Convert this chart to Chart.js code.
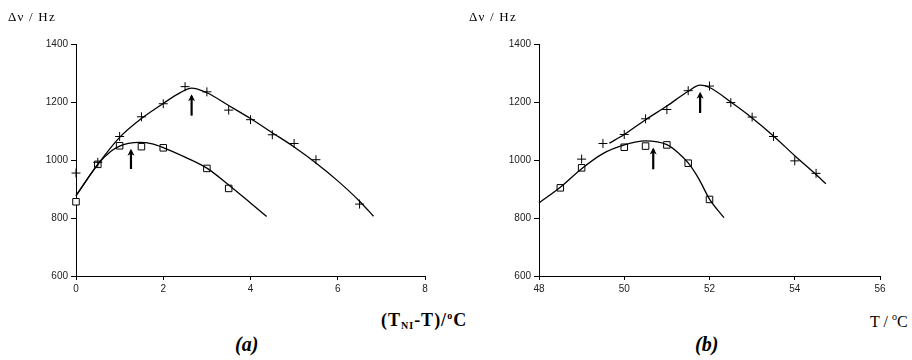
<!DOCTYPE html>
<html>
<head>
<meta charset="utf-8">
<script src="https://cdn.jsdelivr.net/npm/chart.js@4.4.0/dist/chart.umd.min.js"></script>
<style>
  html, body { margin: 0; padding: 0; background: #fff; }
  #wrap { position: relative; width: 912px; height: 360px; overflow: hidden; }
  canvas { position: absolute; top: 0; }
  .lbl { position: absolute; color: #000; white-space: nowrap; font-family: "Liberation Serif", "DejaVu Serif", serif; }
  .ylab { font-size: 13px; top: 9px; letter-spacing: 1.2px; }
  .xt { font-size: 16px; top: 311px; }
  .cap { font-size: 20px; font-weight: bold; font-style: italic; top: 333px; }
  sub { font-size: 10px; vertical-align: -3px; }
  sup { font-size: 10px; vertical-align: 7px; }
</style>
</head>
<body>
<div id="wrap">
  <canvas id="cA" width="456" height="300" style="left:0px;width:456px;height:300px"></canvas>
  <canvas id="cB" width="456" height="300" style="left:456px;width:456px;height:300px"></canvas>
  <div class="lbl ylab" style="left:8px">&Delta;&nu; / Hz</div>
  <div class="lbl ylab" style="left:469px">&Delta;&nu; / Hz</div>
  <div class="lbl xt" style="left:381px;top:310px;font-size:18px;font-weight:bold;letter-spacing:1px">(T<sub>NI</sub>-T)/<sup>o</sup>C</div>
  <div class="lbl xt" style="left:870px">T / <sup>o</sup>C</div>
  <div class="lbl cap" style="left:235px">(a)</div>
  <div class="lbl cap" style="left:695px">(b)</div>
</div>
<script>
// ---- Panel (a): x = (T_NI - T) / °C ----
const aPlusX  = [0, 0.5, 1.0, 1.5, 2.0, 2.5, 3.0, 3.5, 4.0, 4.5, 5.0, 5.5, 6.5];
const aPlusY  = [955, 992, 1081, 1149, 1194, 1253, 1235, 1172, 1139, 1087, 1057, 1001, 848];
const aSqX    = [0, 0.5, 1.0, 1.5, 2.0, 3.0, 3.5];
const aSqY    = [856, 985, 1049, 1046, 1042, 971, 902];
const aUpX    = [0, 0.5, 1.0, 1.5, 2.0, 2.4, 2.65, 3.0, 3.5, 4.0, 4.5, 5.0, 5.5, 6.0, 6.5, 6.82];
const aUpY    = [877, 985, 1078, 1143, 1195, 1233, 1248, 1232, 1188, 1143, 1094, 1045, 990, 928, 858, 806];
const aLoX    = [0, 0.5, 0.8, 1.0, 1.2, 1.45, 1.75, 2.0, 2.5, 3.0, 3.5, 4.0, 4.37];
const aLoY    = [877, 985, 1030, 1048, 1057, 1061, 1056, 1043, 1010, 972, 914, 852, 805];
const aArrows = [{x: 1.26, y0: 969, y1: 1039}, {x: 2.65, y0: 1153, y1: 1227}];
const aTicksX = [0, 2, 4, 6, 8];

// ---- Panel (b): x = T / °C ----
const bPlusX  = [49.0, 49.5, 50.0, 50.5, 51.0, 51.5, 52.0, 52.5, 53.0, 53.5, 54.0, 54.5];
const bPlusY  = [1003, 1057, 1088, 1142, 1174, 1239, 1255, 1198, 1148, 1081, 997, 954];
const bSqX    = [48.5, 49.0, 50.0, 50.5, 51.0, 51.5, 52.0];
const bSqY    = [904, 973, 1044, 1048, 1052, 989, 864];
const bUpX    = [49.65, 50.0, 50.5, 51.0, 51.5, 51.78, 52.0, 52.5, 53.0, 53.5, 54.0, 54.5, 54.73];
const bUpY    = [1058, 1088, 1139, 1186, 1237, 1258, 1250, 1200, 1145, 1083, 1015, 950, 918];
const bLoX    = [48.0, 48.5, 49.0, 49.5, 50.0, 50.5, 51.0, 51.25, 51.5, 51.75, 52.0, 52.34];
const bLoY    = [852, 906, 970, 1022, 1052, 1066, 1053, 1027, 990, 935, 865, 801];
const bArrows = [{x: 50.68, y0: 968, y1: 1043}, {x: 51.78, y0: 1162, y1: 1235}];
const bTicksX = [48, 50, 52, 54, 56];

const yTicks = [600, 800, 1000, 1200, 1400];

function pts(xs, ys) { return xs.map((x, i) => ({x: x, y: ys[i]})); }

const arrowPlugin = {
  id: 'arrows',
  afterDatasetsDraw(chart, args, opts) {
    const ctx = chart.ctx, xs = chart.scales.x, ys = chart.scales.y;
    ctx.save();
    ctx.strokeStyle = '#000';
    ctx.fillStyle = '#000';
    ctx.lineWidth = 2.2;
    (opts.list || []).forEach(a => {
      const px = xs.getPixelForValue(a.x);
      const p0 = ys.getPixelForValue(a.y0);
      const p1 = ys.getPixelForValue(a.y1);
      ctx.beginPath();
      ctx.moveTo(px, p0);
      ctx.lineTo(px, p1 + 2);
      ctx.stroke();
      ctx.beginPath();
      ctx.moveTo(px, p1);
      ctx.lineTo(px - 3.5, p1 + 7);
      ctx.lineTo(px, p1 + 5);
      ctx.lineTo(px + 3.5, p1 + 7);
      ctx.closePath();
      ctx.fill();
    });
    ctx.restore();
  }
};

function makeChart(id, cfg) {
  const tickFont = {family: '"Liberation Sans", Arial, sans-serif', size: 10};
  const curve = {showLine: true, cubicInterpolationMode: 'monotone', borderColor: '#000', borderWidth: 1.3, pointRadius: 0, fill: false, clip: false};
  return new Chart(document.getElementById(id), {
    type: 'scatter',
    data: {
      datasets: [
        Object.assign({data: pts(cfg.upX, cfg.upY)}, curve),
        Object.assign({data: pts(cfg.loX, cfg.loY)}, curve),
        {data: pts(cfg.plusX, cfg.plusY), pointStyle: 'cross', pointRadius: 4.5, borderColor: '#000', borderWidth: 1, backgroundColor: '#000', clip: false},
        {data: pts(cfg.sqX, cfg.sqY), pointStyle: 'rect', pointRadius: 4.6, borderColor: '#000', borderWidth: 1, backgroundColor: '#fff', clip: false}
      ]
    },
    options: {
      responsive: false,
      animation: false,
      events: [],
      layout: {padding: {left: 0, right: cfg.padRight, top: 44, bottom: 0}},
      plugins: {legend: {display: false}, tooltip: {enabled: false}, arrows: {list: cfg.arrows}},
      scales: {
        x: {
          type: 'linear', min: cfg.ticksX[0], max: cfg.ticksX[cfg.ticksX.length - 1],
          afterBuildTicks: s => { s.ticks = cfg.ticksX.map(v => ({value: v})); },
          afterFit: s => { s.height = 24; },
          ticks: {color: '#222', font: tickFont, padding: 3, maxRotation: 0, callback: v => String(v)},
          grid: {display: true, drawOnChartArea: false, drawTicks: true, tickLength: 4, color: '#000'},
          border: {display: true, color: '#000', width: 1}
        },
        y: {
          type: 'linear', min: 600, max: 1400,
          afterBuildTicks: s => { s.ticks = yTicks.map(v => ({value: v})); },
          afterFit: s => { s.width = cfg.yWidth; },
          ticks: {color: '#222', font: tickFont, padding: 3, callback: v => String(v)},
          grid: {display: true, drawOnChartArea: false, drawTicks: true, tickLength: 5, color: '#000'},
          border: {display: true, color: '#000', width: 1}
        }
      }
    },
    plugins: [arrowPlugin]
  });
}

makeChart('cA', {plusX: aPlusX, plusY: aPlusY, sqX: aSqX, sqY: aSqY, upX: aUpX, upY: aUpY, loX: aLoX, loY: aLoY,
  arrows: aArrows, ticksX: aTicksX, yWidth: 76, padRight: 31});
makeChart('cB', {plusX: bPlusX, plusY: bPlusY, sqX: bSqX, sqY: bSqY, upX: bUpX, upY: bUpY, loX: bLoX, loY: bLoY,
  arrows: bArrows, ticksX: bTicksX, yWidth: 83, padRight: 32});
</script>
</body>
</html>
